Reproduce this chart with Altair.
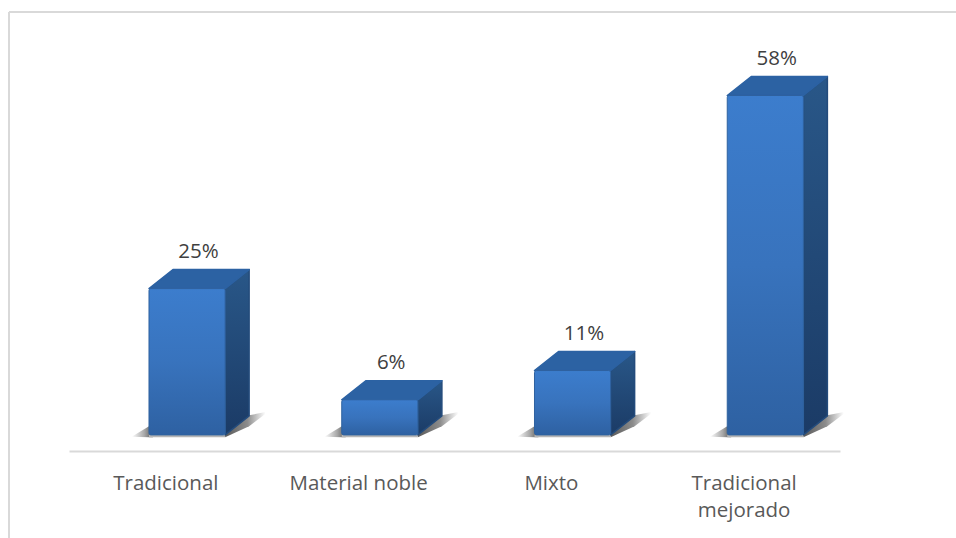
import altair as alt
import pandas as pd

categories = ["Tradicional", "Material noble", "Mixto", "Tradicional mejorado"]
shares = [25, 6, 11, 58]

# Box proportions, in category-slot units horizontally and percent vertically
LEFT, RIGHT = 0.415, 0.81
DX, DY = 0.1245, 3.25
FONT = "Open Sans"
VALUE_COLOR = "#404040"
AXIS_COLOR = "#595959"

X = alt.Scale(domain=[0, 4], range=[0, 771], nice=False, zero=False)
Y = alt.Scale(domain=[-2.75, 70.9], range=[431, 0], nice=False, zero=False)


def gradient(stops, horizontal=False):
    return alt.Gradient(
        gradient="linear",
        x1=0, y1=0,
        x2=1 if horizontal else 0,
        y2=0 if horizontal else 1,
        stops=[alt.GradientStop(color=c, offset=o) for c, o in stops],
    )


front, side, top, shadow_l, shadow_r, shadow_u, labels = [], [], [], [], [], [], []
for i, (cat, v) in enumerate(zip(categories, shares)):
    a, b = i + LEFT, i + RIGHT
    front.append({"cat": cat, "a": a, "b": b, "v": v, "zero": 0})
    for x, y, y2 in [(b, v, 0), (b + DX, v + DY, DY)]:
        side.append({"cat": cat, "x": x, "y": y, "y2": y2})
    for x, y, y2 in [(a, v, v), (a + DX, v + DY, v), (b, v + DY, v), (b + DX, v + DY, v + DY)]:
        top.append({"cat": cat, "x": x, "y": y, "y2": y2})
    for x, y, y2 in [(a - 0.09, -0.3, -0.3), (a, 1.5, -0.4), (a + 0.02, 1.5, -0.4)]:
        shadow_l.append({"cat": cat, "x": x, "y": y, "y2": y2})
    for x, y, y2 in [(b, 0, -0.4), (b + DX, DY + 0.1, 1.5), (b + 0.21, 3.9, 3.6)]:
        shadow_r.append({"cat": cat, "x": x, "y": y, "y2": y2})
    for x in (a, b):
        shadow_u.append({"cat": cat, "x": x, "y": 0, "y2": -0.4})
    labels.append({"x": (a + b) / 2 + DX / 2 - 0.003, "y": v + DY + 3.05, "t": f"{v}%"})


def facet_area(rows, fill, outline=None):
    extras = {}
    if outline is not None:
        extras = {"stroke": outline, "strokeWidth": 1.5, "strokeJoin": "round"}
    return alt.Chart(pd.DataFrame(rows)).mark_area(fill=fill, interpolate="linear", **extras).encode(
        x=alt.X("x:Q", scale=X, title=None),
        y=alt.Y("y:Q", scale=Y, axis=None),
        y2="y2:Q",
        detail="cat:N",
    )


base_axis = alt.Chart(pd.DataFrame({"x": [0.5, 1.5, 2.5, 3.5]})).mark_point(opacity=0).encode(
    x=alt.X(
        "x:Q",
        scale=X,
        title=None,
        axis=alt.Axis(
            values=[0.5, 1.5, 2.5, 3.5],
            labelExpr=(
                f"datum.value < 1 ? '{categories[0]}' : datum.value < 2 ? '{categories[1]}' : "
                f"datum.value < 3 ? '{categories[2]}' : ['Tradicional', 'mejorado']"
            ),
            grid=False,
            ticks=False,
            domainColor="#d9d9d9",
            domainWidth=2,
            labelFont=FONT,
            labelFontSize=20.5,
            labelColor=AXIS_COLOR,
            labelPadding=22,
            labelLineHeight=27,
            labelAngle=0,
            labelBaseline="top",
            labelOverlap=False,
            labelFlush=False,
        ),
    ),
    y=alt.value(431),
)

front_layer = alt.Chart(pd.DataFrame(front)).mark_rect(
    fill=gradient([("#3c7dcd", 0), ("#3873bd", 0.5), ("#2e61a2", 1)]),
    stroke="#2f629f",
    strokeWidth=1,
    cornerRadius=2,
).encode(
    x=alt.X("a:Q", scale=X, title=None),
    x2="b:Q",
    y=alt.Y("v:Q", scale=Y, axis=None),
    y2="zero:Q",
)

value_labels = alt.Chart(pd.DataFrame(labels)).mark_text(
    font=FONT, fontSize=20.5, color=VALUE_COLOR, baseline="middle"
).encode(
    x=alt.X("x:Q", scale=X, title=None),
    y=alt.Y("y:Q", scale=Y, axis=None),
    text="t:N",
)

frame_top = alt.Chart(pd.DataFrame({"k": [0]})).mark_rule(color="#d9d9d9", strokeWidth=2).encode(
    x=alt.value(-60), x2=alt.value(887), y=alt.value(-8)
)
frame_left = alt.Chart(pd.DataFrame({"k": [0]})).mark_rule(color="#d9d9d9", strokeWidth=2).encode(
    x=alt.value(-60), y=alt.value(-8), y2=alt.value(518)
)

chart = alt.layer(
    base_axis,
    frame_top,
    frame_left,
    facet_area(shadow_l, gradient([("#ffffff", 0), ("#a8a8a8", 0.6), ("#5a5a5a", 1)], True)),
    facet_area(shadow_r, gradient([("#5a5a5a", 0), ("#8c8c8c", 0.55), ("#ffffff", 1)], True)),
    facet_area(shadow_u, "#b5b5b5"),
    facet_area(side, gradient([("#295788", 0), ("#1b3b66", 1)]), "#234b7c"),
    facet_area(top, "#2c62a3", "#2c62a3"),
    front_layer,
    value_labels,
).properties(
    width=771,
    height=431,
    padding={"left": 69, "top": 20, "right": 116, "bottom": 87},
    autosize=alt.AutoSizeParams(type="none"),
    background="#ffffff",
).configure_view(stroke=None)

chart.save("out.html", embed_options={"renderer": "svg", "actions": False})
